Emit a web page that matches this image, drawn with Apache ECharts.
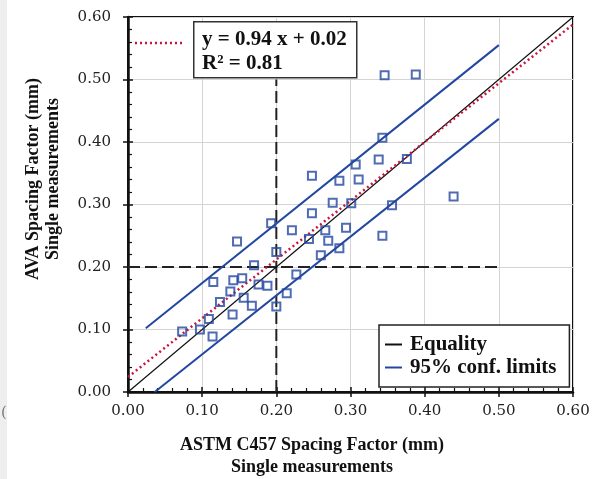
<!DOCTYPE html>
<html>
<head>
<meta charset="utf-8">
<script src="https://cdn.jsdelivr.net/npm/echarts@6/dist/echarts.min.js"></script>
<style>
html,body{margin:0;padding:0;background:#fff;}
#chart{width:603px;height:479px;}
</style>
</head>
<body>
<div id="chart"></div>
<script>
// ---- data ----
const astmX = [0.073,0.097,0.109,0.114,0.115,0.124,0.138,0.141,0.142,0.154,0.156,0.167,0.170,0.176,0.188,0.200,0.200,0.214,0.227,0.260,0.285,0.147,0.193,0.221,0.244,0.248,0.248,0.266,0.270,0.276,0.285,0.294,0.301,0.307,0.311,0.346,0.388,0.343,0.338,0.376,0.439,0.356,0.343];
const avaY  = [0.097,0.100,0.117,0.089,0.176,0.144,0.161,0.124,0.179,0.182,0.151,0.138,0.203,0.172,0.170,0.137,0.224,0.158,0.188,0.219,0.230,0.241,0.270,0.259,0.245,0.346,0.286,0.259,0.242,0.303,0.338,0.263,0.302,0.364,0.340,0.507,0.508,0.407,0.372,0.373,0.313,0.299,0.250];
const equalityX = [0, 0.6];
const equalityY = [0, 0.6];
const fitX = [0, 0.6];
const fitY = [0.024, 0.588];
const upperX = [0.024, 0.5];
const upperY = [0.102, 0.555];
const lowerX = [0.036, 0.5];
const lowerY = [0.0, 0.437];
const refVX = [0.2, 0.2];
const refVY = [0.0, 0.5];
const refHX = [0.0, 0.5];
const refHY = [0.2, 0.2];
const xTickLabels = ['0.00','0.10','0.20','0.30','0.40','0.50','0.60'];
const yTickLabels = ['0.00','0.10','0.20','0.30','0.40','0.50','0.60'];
const xTitle = ['ASTM C457 Spacing Factor (mm)', 'Single measurements'];
const yTitle = ['AVA Spacing Factor (mm)', 'Single measurements'];
const eqText = ['y = 0.94 x + 0.02', 'R\u00B2 = 0.81'];
const legendNames = ['Equality', '95% conf. limits'];

const pairs = (xs, ys) => xs.map((x, i) => [x, ys[i]]);
const tickFmt = labels => v => labels[Math.round(v / 0.1)] || '';

const BLUE = '#2347a0';
const RED = '#c8163e';
const serif = '"Liberation Serif", "Times New Roman", serif';
const tickFont = '"DejaVu Serif", serif';

const chart = echarts.init(document.getElementById('chart'), null, {renderer: 'canvas'});

const baseX = {type: 'value', min: 0, max: 0.6, interval: 0.1, gridIndex: 0};
const baseY = {type: 'value', min: 0, max: 0.6, interval: 0.1, gridIndex: 0};

const option = {
  animation: false,
  backgroundColor: '#ffffff',
  grid: {left: 128, right: 30, top: 17, bottom: 87, show: true, borderColor: '#111', borderWidth: 2, backgroundColor: 'transparent'},
  xAxis: [
    Object.assign({}, baseX, {
      position: 'bottom',
      axisLine: {show: true, onZero: false, lineStyle: {color: '#111', width: 2.5}},
      axisTick: {show: true, inside: true, length: 5, lineStyle: {color: '#111', width: 1.5}},
      minorTick: {show: true, splitNumber: 5, length: 4, lineStyle: {color: '#111', width: 1.2}},
      splitLine: {show: true, lineStyle: {color: '#d4d4d4', width: 1}},
      axisLabel: {formatter: tickFmt(xTickLabels), fontFamily: tickFont, fontSize: 15, color: '#222', margin: 12}
    }),
    Object.assign({}, baseX, {
      position: 'bottom',
      axisLine: {show: false},
      axisTick: {show: true, inside: false, length: 5, lineStyle: {color: '#111', width: 1.5}},
      splitLine: {show: false},
      axisLabel: {show: false}
    })
  ],
  yAxis: [
    Object.assign({}, baseY, {
      position: 'left',
      axisLine: {show: true, onZero: false, lineStyle: {color: '#111', width: 2.5}},
      axisTick: {show: true, inside: true, length: 5, lineStyle: {color: '#111', width: 1.5}},
      minorTick: {show: true, splitNumber: 5, length: 4, lineStyle: {color: '#111', width: 1.2}},
      splitLine: {show: true, lineStyle: {color: '#d4d4d4', width: 1}},
      axisLabel: {formatter: tickFmt(yTickLabels), fontFamily: tickFont, fontSize: 15, color: '#222', margin: 17}
    }),
    Object.assign({}, baseY, {
      position: 'left',
      axisLine: {show: false},
      axisTick: {show: true, inside: false, length: 5, lineStyle: {color: '#111', width: 1.5}},
      splitLine: {show: false},
      axisLabel: {show: false}
    })
  ],
  legend: {
    data: legendNames,
    orient: 'vertical',
    left: 379,
    top: 325,
    padding: [8, 13, 8, 6],
    itemGap: 0,
    itemWidth: 17,
    itemHeight: 2,
    icon: 'rect',
    backgroundColor: '#fff',
    borderColor: '#222',
    borderWidth: 1.5,
    textStyle: {fontFamily: serif, fontWeight: 'bold', fontSize: 21, lineHeight: 23, color: '#111', padding: [0,0,0,3]}
  },
  series: [
    {type: 'line', name: 'ref-v', data: pairs(refVX, refVY), symbol: 'none', silent: true,
     lineStyle: {color: '#222', width: 2, type: [12, 5]}},
    {type: 'line', name: 'ref-h', data: pairs(refHX, refHY), symbol: 'none', silent: true,
     lineStyle: {color: '#222', width: 2, type: [12, 5]}},
    {type: 'line', name: 'Equality', data: pairs(equalityX, equalityY), symbol: 'none',
     color: '#111', lineStyle: {color: '#111', width: 1.2}},
    {type: 'line', name: 'fit', data: pairs(fitX, fitY), symbol: 'none',
     color: RED, lineStyle: {color: RED, width: 2.5, type: [2, 3]}},
    {type: 'line', name: '95% conf. limits', data: pairs(upperX, upperY), symbol: 'none',
     color: BLUE, lineStyle: {color: BLUE, width: 2}},
    {type: 'line', name: '95% conf. limits', data: pairs(lowerX, lowerY), symbol: 'none',
     color: BLUE, lineStyle: {color: BLUE, width: 2}},
    {type: 'scatter', name: 'points', data: pairs(astmX, avaY), symbol: 'rect', symbolSize: 8,
     itemStyle: {color: 'rgba(255,255,255,0)', borderColor: BLUE, borderWidth: 2}, z: 5}
  ],
  graphic: [
    {type: 'rect', left: 0, top: 0, shape: {width: 7, height: 479}, style: {fill: '#eeeeee'}, z: -1},
    {type: 'text', left: 1, top: 406, style: {text: '(', font: '15px ' + tickFont, fill: '#777'}},
    {type: 'rect', left: 193, top: 21, shape: {width: 163, height: 56},
     style: {fill: '#fff', stroke: '#333', lineWidth: 1.5}, z: 10},
    {type: 'text', x: 202, y: 40, z: 11,
     style: {text: eqText[0], font: 'bold 21px ' + serif, fill: '#111', verticalAlign: 'middle'}},
    {type: 'text', x: 202, y: 64, z: 11,
     style: {text: eqText[1], font: 'bold 21px ' + serif, fill: '#111', verticalAlign: 'middle'}},
    {type: 'line', z: 11, shape: {x1: 135, y1: 43, x2: 183, y2: 43},
     style: {stroke: RED, lineWidth: 2.5, lineDash: [2, 3]}},
    {type: 'text', x: 312, y: 445, z: 11,
     style: {text: xTitle[0], font: 'bold 18px ' + serif, fill: '#111', align: 'center', verticalAlign: 'middle'}},
    {type: 'text', x: 312, y: 467, z: 11,
     style: {text: xTitle[1], font: 'bold 18px ' + serif, fill: '#111', align: 'center', verticalAlign: 'middle'}},
    {type: 'text', x: 33, y: 179, rotation: Math.PI / 2, z: 11,
     style: {text: yTitle[0], font: 'bold 18px ' + serif, fill: '#111', align: 'center', verticalAlign: 'middle'}},
    {type: 'text', x: 53, y: 179, rotation: Math.PI / 2, z: 11,
     style: {text: yTitle[1], font: 'bold 18px ' + serif, fill: '#111', align: 'center', verticalAlign: 'middle'}}
  ]
};
chart.setOption(option);
</script>
</body>
</html>
